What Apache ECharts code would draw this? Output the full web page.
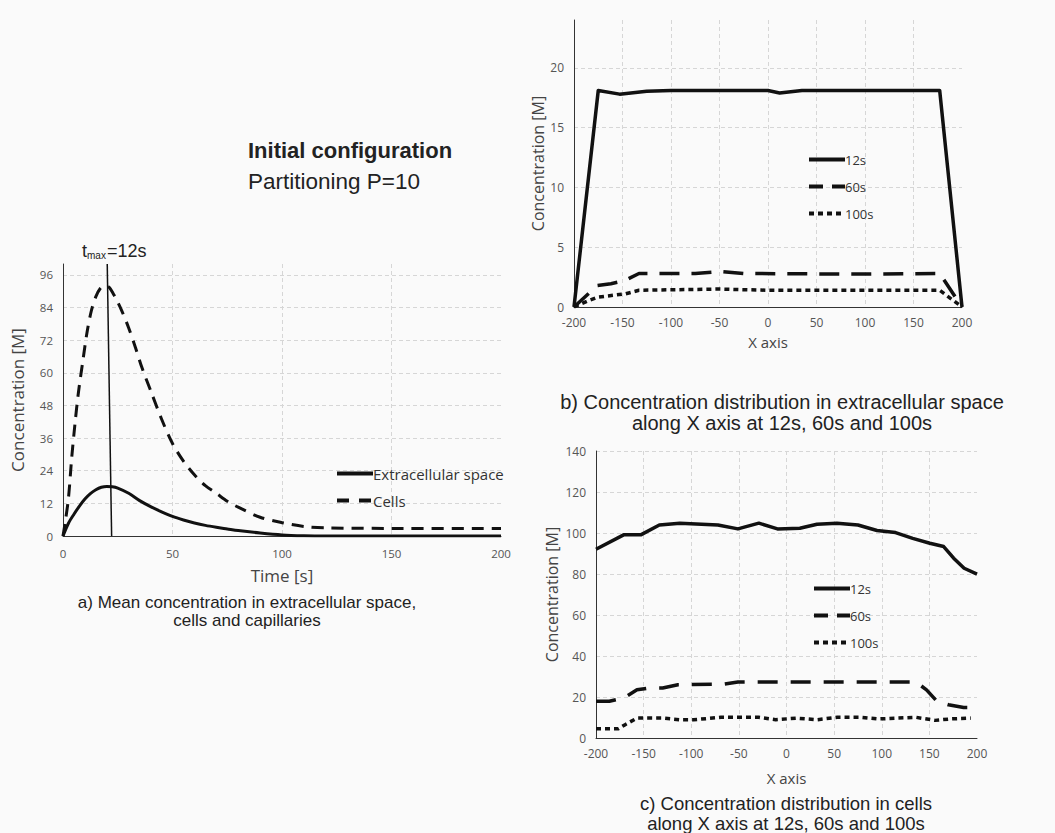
<!DOCTYPE html>
<html><head><meta charset="utf-8">
<script src="https://cdn.jsdelivr.net/npm/echarts@6/dist/echarts.min.js"></script>
<style>html,body{margin:0;padding:0;background:#fafafa}#c{width:1055px;height:833px}</style>
</head><body><div id="c"></div>
<script>
// ---- Chart a: mean concentration vs time ----
const timeExt = [0, 2.5, 5, 7.5, 10, 12.5, 15, 17.5, 20, 22.5, 25, 30, 35, 40, 45, 50, 55, 60, 65, 70, 75, 80, 90, 100, 110, 120, 150, 200];
const valExt  = [0, 4.7, 8.0, 11.0, 13.6, 15.6, 17.0, 17.9, 18.2, 18.1, 17.6, 15.7, 13.0, 10.8, 8.9, 7.2, 5.9, 4.8, 3.9, 3.2, 2.6, 2.0, 1.1, 0.4, 0.1, 0, 0, 0];
const timeCells = [0, 1, 2.5, 4, 5.5, 7, 9, 11, 13, 15, 17, 19, 21, 23, 25, 27, 30, 33, 36, 40, 45, 50, 55, 60, 65, 70, 75, 80, 90, 100, 110, 120, 150, 200];
const valCells  = [0, 5, 14, 29, 41.5, 52.5, 64, 75, 83, 88, 91, 92, 91.5, 89, 86, 82.5, 76.5, 69.5, 62, 53.5, 43, 34, 27.5, 22.5, 18.5, 15.7, 12.8, 10.6, 6.9, 4.9, 3.5, 3.0, 2.8, 2.8];
const tmaxT = [20.2, 22.2];
const tmaxV = [100, 0];
const ticksA_x = {min: 0, max: 200, interval: 50};
const ticksA_y = {min: 0, max: 100, interval: 12};

// ---- Chart b: extracellular space along X ----
const xB12  = [-200, -175, -153, -125, -100, 0, 12, 35, 177, 200];
const yB12  = [0, 18.1, 17.8, 18.05, 18.1, 18.1, 17.9, 18.1, 18.1, 0];
const xB60  = [-200, -176, -162, -148, -133, -75, -48, -25, 100, 177, 200];
const yB60  = [0, 1.8, 1.95, 2.2, 2.8, 2.8, 2.97, 2.8, 2.75, 2.8, 0];
const xB100 = [-200, -186, -175, -147, -133, -50, 0, 177, 200];
const yB100 = [0, 0.5, 0.83, 1.1, 1.4, 1.5, 1.4, 1.4, 0];

// ---- Chart c: cells along X ----
const xC12  = [-200, -171, -153, -133.5, -112, -72, -51, -29, -9.5, 14, 32, 53, 75, 95, 114.5, 132.5, 150.5, 165, 175.5, 186.5, 200];
const yC12  = [92.1, 99.1, 99.1, 103.9, 104.8, 103.9, 102.0, 104.8, 102.0, 102.3, 104.3, 104.8, 103.9, 101.2, 100.2, 97.4, 95.0, 93.4, 87.7, 82.8, 79.9];
const xC60  = [-200, -186, -171, -157, -144, -130, -114, -65, -51, 136, 147, 158, 170, 186, 200];
const yC60  = [17.9, 17.9, 19.5, 23.5, 24.4, 24.4, 26.0, 26.3, 27.3, 27.3, 23.5, 17.9, 16.2, 14.9, 14.9];
const xC100 = [-200, -176.6, -169.4, -157, -130, -112, -97.6, -68.8, -29.3, -11.3, 10.3, 31.8, 53.4, 78.6, 96.5, 136, 156, 172, 193.5];
const yC100 = [4.5, 4.5, 6.5, 9.7, 9.7, 8.9, 8.9, 10.1, 10.1, 8.9, 9.7, 8.9, 10.1, 10.1, 9.3, 10.1, 8.6, 9.3, 9.7];

const legendA = ['Extracellular space', 'Cells'];
const legendBC = ['12s', '60s', '100s'];

const pairs = (xs, ys) => xs.map((x, i) => [x, ys[i]]);
const INK = '#111';
const tickFont = 'Open Sans';
const capFont = 'Liberation Sans';
const gridLine = {show: true, lineStyle: {type: [4, 3], color: '#d6d6d6', width: 1}, showMaxLine: false};
const axisLine = {show: true, onZero: false, lineStyle: {color: '#333', width: 1}};

function xAx(gi, name, gap, nfs, lfs, ext) {
  return Object.assign({
    type: 'value', gridIndex: gi, name: name, nameLocation: 'middle', nameGap: gap,
    nameTextStyle: {fontFamily: tickFont, fontSize: nfs, color: '#444'},
    axisLine: axisLine, axisTick: {show: false},
    axisLabel: {fontFamily: tickFont, fontSize: lfs, color: '#555', margin: gi === 0 ? 11 : 9},
    splitLine: gridLine
  }, ext);
}
function yAx(gi, gap, nfs, lfs, showMax, ext) {
  return Object.assign({
    type: 'value', gridIndex: gi, name: 'Concentration [M]', nameLocation: 'middle', nameGap: gap,
    nameTextStyle: {fontFamily: tickFont, fontSize: nfs, color: '#444'},
    axisLine: axisLine, axisTick: {show: false},
    axisLabel: {fontFamily: tickFont, fontSize: lfs, color: '#555', margin: 10, showMaxLabel: showMax},
    splitLine: Object.assign({}, gridLine, {showMaxLine: showMax})
  }, ext);
}
function ln(name, xi, xs, ys, type, width, smooth) {
  return {
    name: name, type: 'line', xAxisIndex: xi, yAxisIndex: xi, data: pairs(xs, ys),
    symbol: 'none', smooth: smooth || false, animation: false,
    lineStyle: {color: INK, width: width, type: type, cap: 'butt', join: 'round'},
    itemStyle: {color: INK}
  };
}
function lg(items, left, top, gap, fs, w, strip) {
  return {
    data: items, orient: 'vertical', left: left, top: top, itemWidth: w, itemHeight: 12,
    itemGap: gap, padding: 0, selectedMode: false,
    itemStyle: {opacity: 0},
    lineStyle: {width: 4, color: INK},
    textStyle: {fontFamily: tickFont, fontSize: fs, color: '#333', padding: [0, 0, 0, -5]},
    formatter: strip ? (n => n.replace(' (c)', '')) : undefined
  };
}

const option = {
  backgroundColor: '#fafafa',
  animation: false,
  title: [
    {text: 'Initial configuration', left: 248, top: 139, padding: 0,
     textStyle: {fontFamily: capFont, fontSize: 22, fontWeight: 'bold', color: '#222'}},
    {text: 'Partitioning P=10', left: 248, top: 170, padding: 0,
     textStyle: {fontFamily: capFont, fontSize: 22.5, fontWeight: 'normal', color: '#222'}},
    {text: '{t|t}{s|max}{t|=12s}', left: 82, top: 239, padding: 0,
     textStyle: {fontWeight: 'normal', rich: {
       t: {fontFamily: capFont, fontSize: 18, fontWeight: 'normal', color: '#222', lineHeight: 21, verticalAlign: 'bottom'},
       s: {fontFamily: capFont, fontSize: 10, fontWeight: 'normal', color: '#222', lineHeight: 12, verticalAlign: 'bottom', padding: [0, 1, 0, 0]}
     }}},
    {text: 'a) Mean concentration in extracellular space,\ncells and capillaries', left: 247, top: 593, padding: 0,
     textAlign: 'center',
     textStyle: {fontFamily: capFont, fontSize: 17, fontWeight: 'normal', color: '#222', lineHeight: 18}},
    {text: 'b) Concentration distribution in extracellular space\nalong X axis at 12s, 60s and 100s', left: 782, top: 391, padding: 0,
     textAlign: 'center',
     textStyle: {fontFamily: capFont, fontSize: 20, fontWeight: 'normal', color: '#222', lineHeight: 21}},
    {text: 'c) Concentration distribution in cells\nalong X axis at 12s, 60s and 100s', left: 786, top: 793, padding: 0,
     textAlign: 'center',
     textStyle: {fontFamily: capFont, fontSize: 18.5, fontWeight: 'normal', color: '#222', lineHeight: 20}}
  ],
  grid: [
    {left: 63, top: 264, width: 438, height: 272},
    {left: 574, top: 20, width: 388, height: 287},
    {left: 596, top: 451, width: 381, height: 287}
  ],
  xAxis: [
    xAx(0, 'Time [s]', 31, 17, 11.5, ticksA_x),
    xAx(1, 'X axis', 27, 15, 12, {min: -200, max: 200, interval: 50}),
    xAx(2, 'X axis', 32, 15, 12, {min: -200, max: 200, interval: 50})
  ],
  yAxis: [
    yAx(0, 37, 17, 11.5, false, ticksA_y),
    yAx(1, 28, 16, 12, false, {min: 0, max: 24, interval: 5}),
    yAx(2, 36, 16, 12, true, {min: 0, max: 140, interval: 20})
  ],
  legend: [
    lg([{name: 'Extracellular space'}, {name: 'Cells', lineStyle: {type: [12, 10], width: 4}}], 335, 466, 12, 15, 36, false),
    lg([{name: '12s'}, {name: '60s', lineStyle: {type: [14, 9], width: 4}}, {name: '100s', lineStyle: {type: [5, 4], width: 4}}], 807, 153, 14, 13, 36, false),
    lg([{name: '12s (c)'}, {name: '60s (c)', lineStyle: {type: [14, 9], width: 4}}, {name: '100s (c)', lineStyle: {type: [5, 4], width: 4}}], 812, 582, 14, 13, 36, true)
  ],
  series: [
    ln('Extracellular space', 0, timeExt, valExt, 'solid', 3, 0.3),
    ln('Cells', 0, timeCells, valCells, [12, 8], 3, 0.3),
    ln('tmax', 0, tmaxT, tmaxV, 'solid', 1.5),
    ln('12s', 1, xB12, yB12, 'solid', 3.5),
    ln('60s', 1, xB60, yB60, [20, 12], 3.5),
    ln('100s', 1, xB100, yB100, [5, 4], 3.5),
    ln('12s (c)', 2, xC12, yC12, 'solid', 3.5),
    ln('60s (c)', 2, xC60, yC60, [20, 13], 3.5),
    ln('100s (c)', 2, xC100, yC100, [5, 4], 3.5)
  ]
};
const chart = echarts.init(document.getElementById('c'), null, {renderer: 'svg'});
chart.setOption(option);
</script>
</body></html>
